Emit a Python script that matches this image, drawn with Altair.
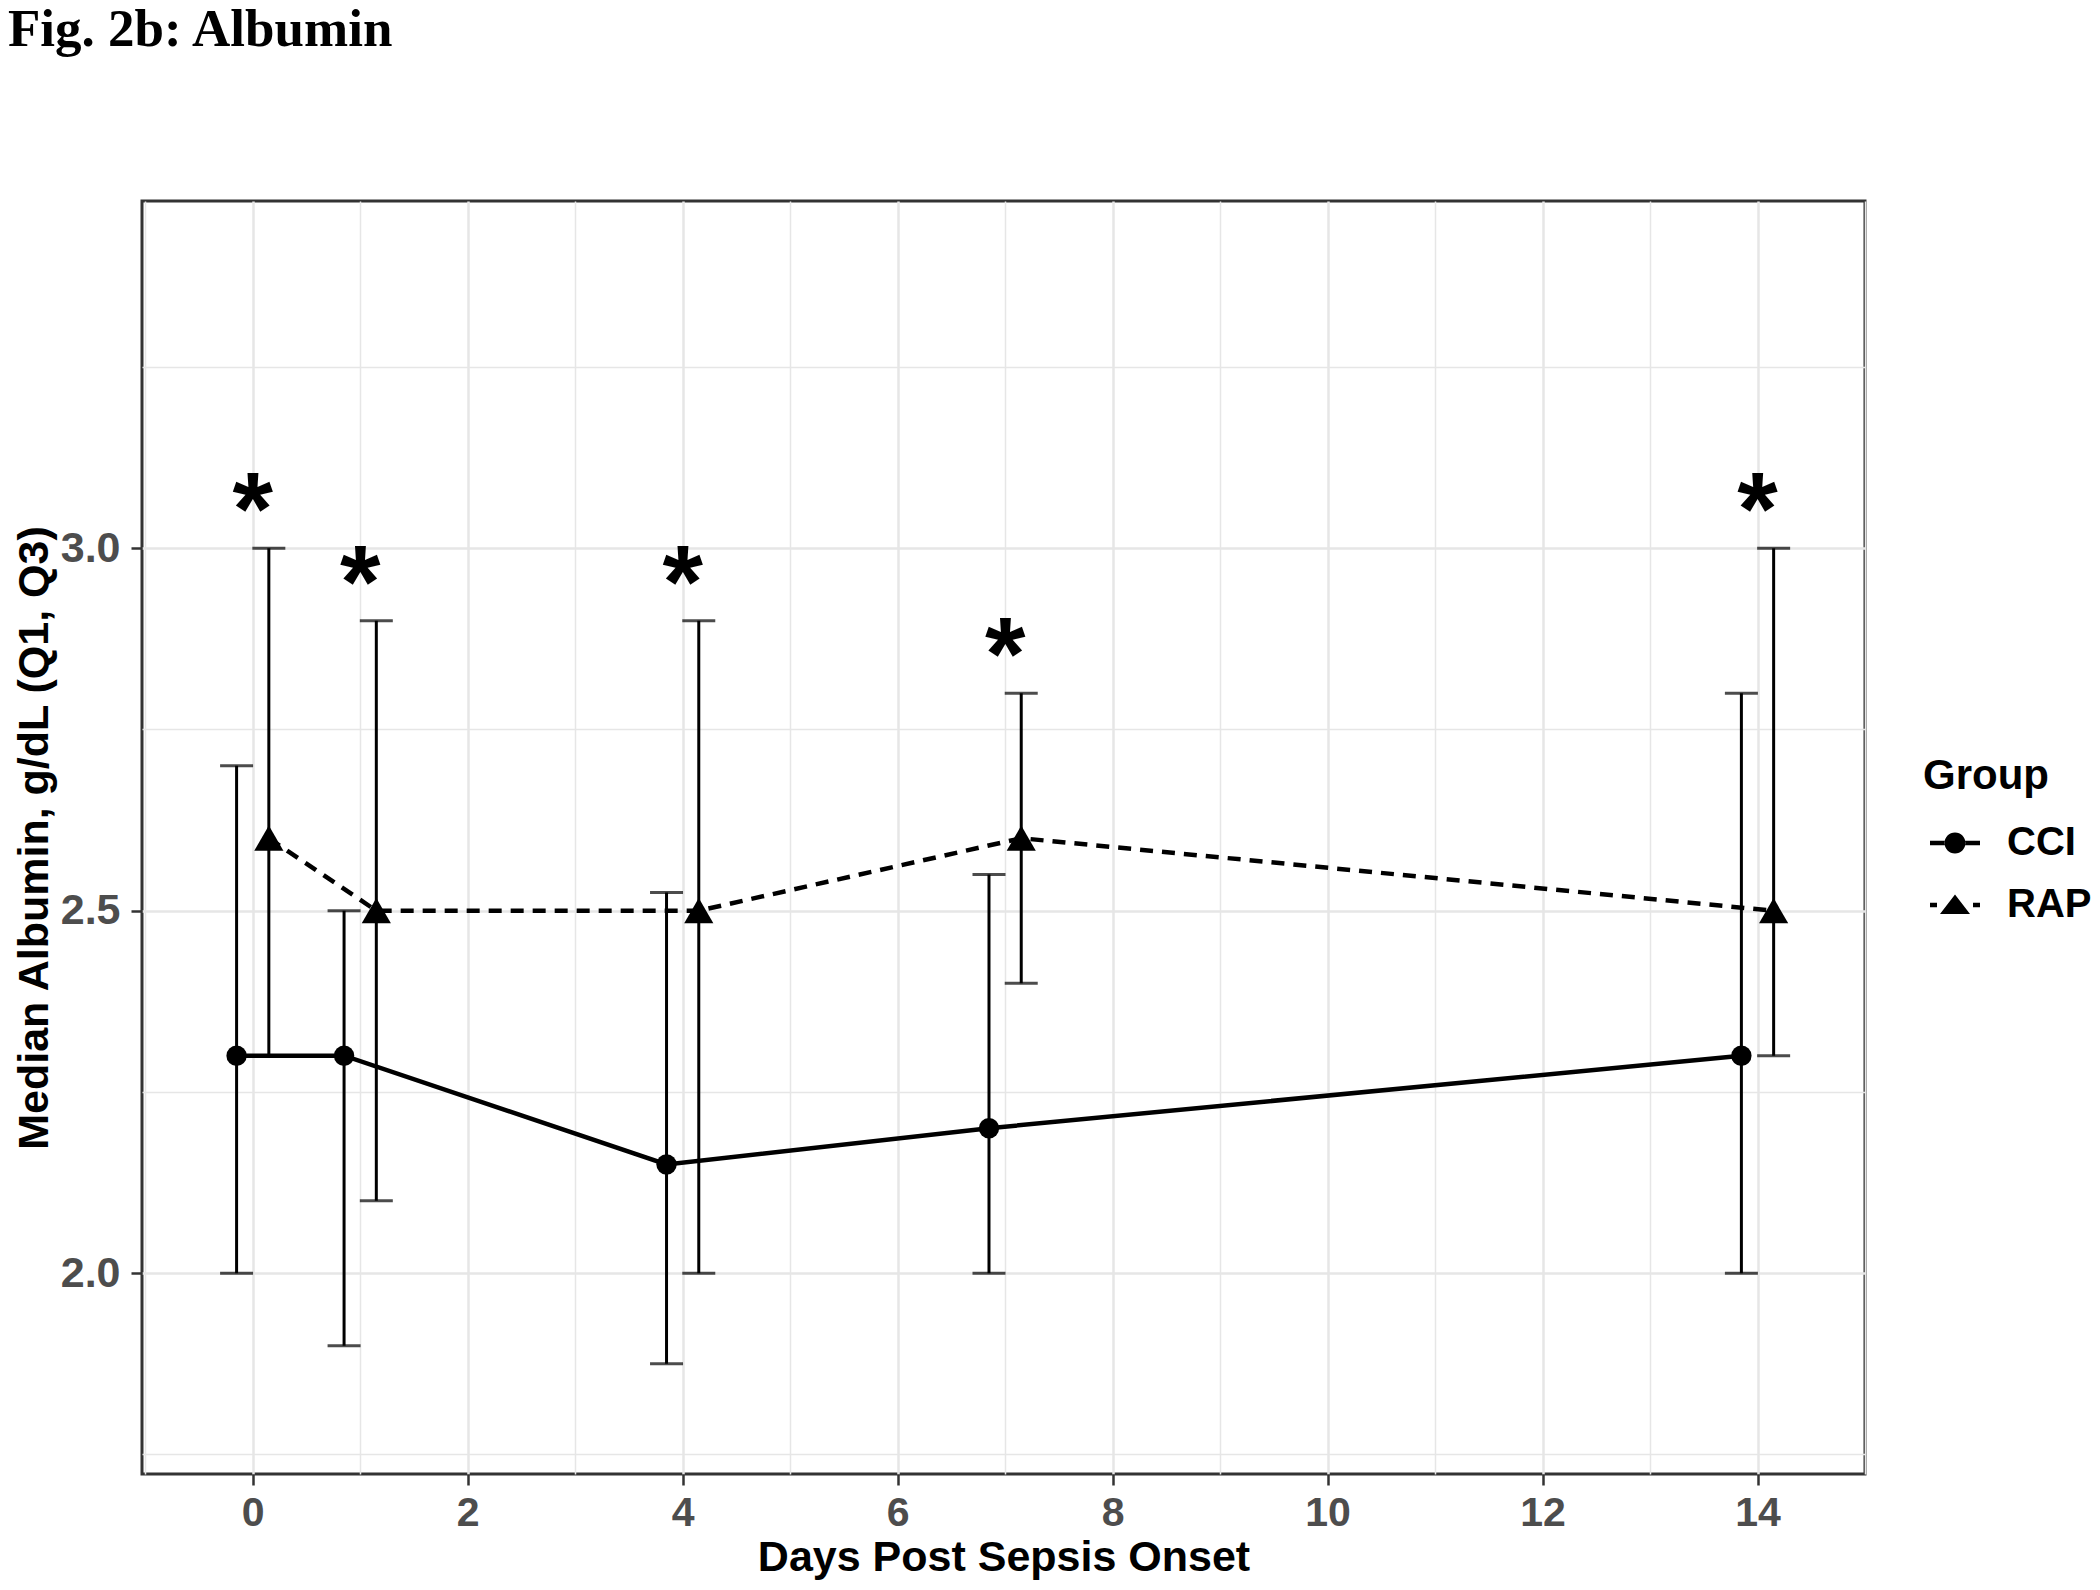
import altair as alt
import pandas as pd

# ---- data ----
days = [0, 1, 4, 7, 14]
groups = ["CCI", "RAP"]
cci_median = [2.3, 2.3, 2.15, 2.2, 2.3]
cci_q1 = [2.0, 1.9, 1.875, 2.0, 2.0]
cci_q3 = [2.7, 2.5, 2.525, 2.55, 2.8]
rap_median = [2.6, 2.5, 2.5, 2.6, 2.5]
rap_q1 = [2.3, 2.1, 2.0, 2.4, 2.3]
rap_q3 = [3.0, 2.9, 2.9, 2.8, 3.0]
significant_days = [0, 1, 4, 7, 14]
x_grid_values = list(range(-1, 16))
y_grid_values = [1.75, 2.0, 2.25, 2.5, 2.75, 3.0, 3.25]
header_text = ["Fig. 2b: Albumin"]

rows = []
for i, d in enumerate(days):
    rows.append({"day": d, "group": "CCI", "median": cci_median[i], "q1": cci_q1[i], "q3": cci_q3[i]})
    rows.append({"day": d, "group": "RAP", "median": rap_median[i], "q1": rap_q1[i], "q3": rap_q3[i]})
df = pd.DataFrame(rows)

stars = pd.DataFrame({
    "day": significant_days,
    "top": [max(cci_q3[days.index(d)], rap_q3[days.index(d)]) for d in significant_days],
})
legend_df = pd.DataFrame({"group": groups, "day": [days[0], days[0]],
                          "median": [cci_median[0], rap_median[0]]})
header_df = pd.DataFrame({"label": header_text})

FONT = "Liberation Sans"
X_TITLE = "Days Post Sepsis Onset"
Y_TITLE = "Median Albumin, g/dL (Q1, Q3)"

x_scale = alt.Scale(domain=[-1.03, 15.0], nice=False, zero=False)
y_scale = alt.Scale(domain=[1.723, 3.479], nice=False, zero=False)

x_axis = alt.Axis(
    values=x_grid_values,
    labelExpr="datum.value % 2 === 0 ? datum.label : ''",
    tickOpacity={"condition": {"test": "datum.value % 2 === 0", "value": 1}, "value": 0},
    gridWidth={"condition": {"test": "datum.value % 2 === 0", "value": 2.5}, "value": 1.5},
    gridColor="#E6E6E6", grid=True, domain=False,
    tickSize=11, tickWidth=2.5, tickColor="#333333",
    labelOverlap=False, labelFlush=False, labelPadding=8,
    labelFont=FONT, labelFontSize=41, labelFontWeight="bold", labelColor="#4D4D4D",
    titleFont=FONT, titleFontSize=43, titleFontWeight="bold", titleColor="black",
    titlePadding=3,
)
y_axis = alt.Axis(
    values=y_grid_values, format=".1f",
    labelExpr="datum.value % 0.5 === 0 ? datum.label : ''",
    tickOpacity={"condition": {"test": "datum.value % 0.5 === 0", "value": 1}, "value": 0},
    gridWidth={"condition": {"test": "datum.value % 0.5 === 0", "value": 2.5}, "value": 1.5},
    gridColor="#E6E6E6", grid=True, domain=False,
    tickSize=11, tickWidth=2.5, tickColor="#333333",
    labelOverlap=False, labelFlush=False, labelPadding=11,
    labelFont=FONT, labelFontSize=43, labelFontWeight="bold", labelColor="#4D4D4D",
    titleFont=FONT, titleFontSize=43, titleFontWeight="bold", titleColor="black",
    titlePadding=4,
)


def xe(field):
    return alt.X(field, type="quantitative", scale=x_scale, axis=x_axis, title=X_TITLE)


def ye(field):
    return alt.Y(field, type="quantitative", scale=y_scale, axis=y_axis, title=Y_TITLE)


base = alt.Chart(df).transform_calculate(
    xd="datum.day + (datum.group === 'CCI' ? -0.15 : 0.15)"
)

err = base.mark_rule(color="black", strokeWidth=3).encode(
    x=xe("xd"), y=ye("q1"), y2="q3"
)
cap_lo = base.mark_tick(color="black", orient="horizontal", size=33, thickness=3).encode(
    x=xe("xd"), y=ye("q1")
)
cap_hi = base.mark_tick(color="black", orient="horizontal", size=33, thickness=3).encode(
    x=xe("xd"), y=ye("q3")
)
line_cci = base.transform_filter("datum.group === 'CCI'").mark_line(
    color="black", strokeWidth=4.5
).encode(x=xe("xd"), y=ye("median"))
line_rap = base.transform_filter("datum.group === 'RAP'").mark_line(
    color="black", strokeWidth=4.5, strokeDash=[13, 9]
).encode(x=xe("xd"), y=ye("median"))
pts_cci = base.transform_filter("datum.group === 'CCI'").mark_point(
    shape="circle", filled=True, size=415, color="black", opacity=1
).encode(x=xe("xd"), y=ye("median"))
pts_rap = base.transform_filter("datum.group === 'RAP'").mark_point(
    shape="triangle-up", filled=True, size=850, color="black", opacity=1
).encode(x=xe("xd"), y=ye("median"))

star_layer = alt.Chart(stars).mark_text(
    text="*", font=FONT, fontSize=104, fontWeight="bold", color="black",
    baseline="alphabetic", align="center", dy=-3
).encode(x=xe("day"), y=ye("top"))

# legend glyphs: line segment(s) drawn as thin filled bars plus the point shape
cci_sym = ("M-1,-0.09H-0.41V0.09H-1Z M0.41,-0.09H1V0.09H0.41Z "
           "M-0.42,0A0.42,0.42,0,1,0,0.42,0A0.42,0.42,0,1,0,-0.42,0Z")
rap_sym = ("M-1,-0.09H-0.72V0.09H-1Z M0.72,-0.09H1V0.09H0.72Z "
           "M0,-0.42L0.6,0.36L-0.6,0.36Z")

legend_layer = alt.Chart(legend_df).mark_point(filled=True, color="black", opacity=0).encode(
    x=xe("day"), y=ye("median"),
    shape=alt.Shape(
        "group:N",
        scale=alt.Scale(domain=groups, range=[cci_sym, rap_sym]),
        legend=alt.Legend(
            title="Group", orient="none", legendX=1781, legendY=555,
            titleFont=FONT, titleFontSize=42, titleFontWeight="bold", titleColor="black",
            labelFont=FONT, labelFontSize=40, labelFontWeight="bold", labelColor="black",
            symbolSize=2500, symbolStrokeWidth=0, symbolFillColor="black",
            symbolOpacity=1, labelOffset=27,
            rowPadding=17, titlePadding=20, symbolOffset=7,
        ),
    ),
)

header = alt.Chart(header_df).mark_text(
    font="Liberation Serif", fontSize=53, fontWeight="bold", color="black",
    align="left", baseline="alphabetic"
).encode(text="label:N", x=alt.value(-134), y=alt.value(-155))

chart = alt.layer(
    err, cap_lo, cap_hi, line_cci, line_rap, pts_cci, pts_rap, star_layer, legend_layer, header
).properties(
    width=1723, height=1273,
    autosize=alt.AutoSizeParams(type="none"),
    padding={"left": 134, "top": 193, "right": 227, "bottom": 106},
).configure(background="white").configure_view(
    stroke="#333333", strokeWidth=3
)

chart.save("out.html", embed_options={"renderer": "svg", "actions": False})
